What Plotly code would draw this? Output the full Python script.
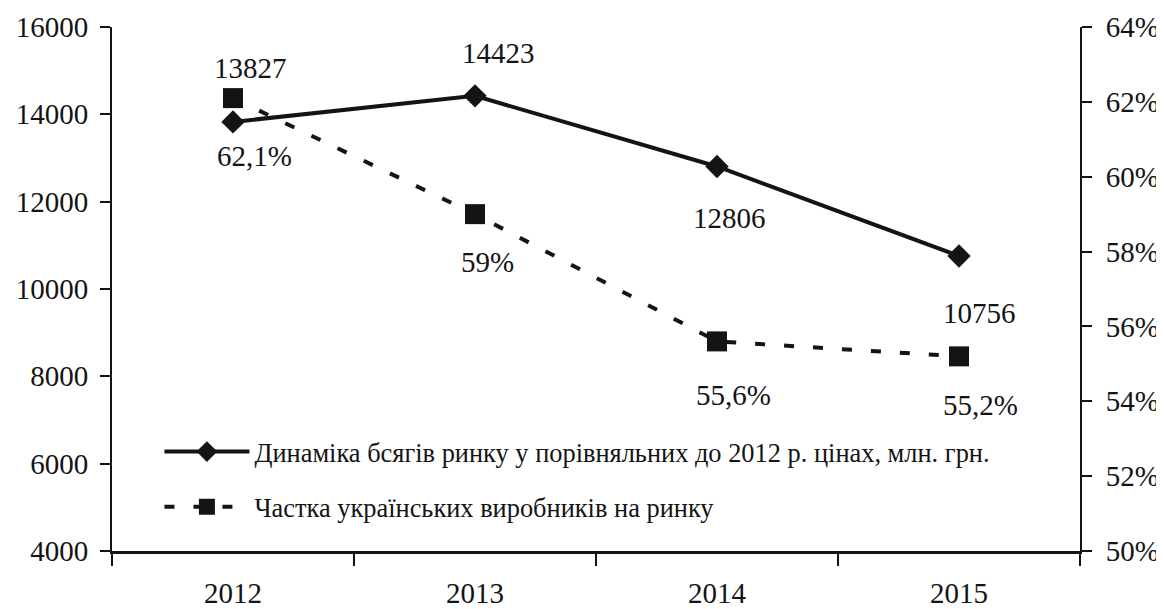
import plotly.graph_objects as go

years = ["2012", "2013", "2014", "2015"]
volume = [13827, 14423, 12806, 10756]
share = [62.1, 59.0, 55.6, 55.2]
volume_labels = ["13827", "14423", "12806", "10756"]
share_labels = ["62,1%", "59%", "55,6%", "55,2%"]
left_ticks = [4000, 6000, 8000, 10000, 12000, 14000, 16000]
left_tick_text = [str(v) for v in left_ticks]
right_ticks = [50, 52, 54, 56, 58, 60, 62, 64]
right_tick_text = [f"{v}%" for v in right_ticks]

name1 = "Динаміка бсягів ринку у порівняльних до 2012 р. цінах, млн. грн."
name2 = "Частка українських виробників на ринку"

FONT = "'Liberation Serif', 'Times New Roman', Times, serif"
INK = "#141414"

fig = go.Figure()
fig.add_trace(go.Scatter(
    x=years, y=volume, name=name1, mode="lines+markers",
    line=dict(color=INK, width=4),
    marker=dict(symbol="diamond", size=18, color=INK),
    yaxis="y", legend="legend",
))
fig.add_trace(go.Scatter(
    x=years, y=share, name=name2, mode="lines+markers",
    line=dict(color=INK, width=4, dash="10px,19px"),
    marker=dict(symbol="square", size=20, color=INK),
    yaxis="y2", legend="legend2",
))

# value label offsets in pixels (dx right, dy down)
vol_off = [(17, -54), (23, -43), (12, 52), (20, 57)]
share_off = [(21, 58), (12, 48), (16, 54), (21, 49)]
for i in range(len(years)):
    dx, dy = vol_off[i]
    fig.add_annotation(x=i, y=volume[i], xref="x", yref="y", text=volume_labels[i],
                       showarrow=False, xshift=dx, yshift=-dy,
                       font=dict(family=FONT, size=29, color=INK))
    dx, dy = share_off[i]
    fig.add_annotation(x=i, y=share[i], xref="x", yref="y2", text=share_labels[i],
                       showarrow=False, xshift=dx, yshift=-dy,
                       font=dict(family=FONT, size=29, color=INK))

legend_common = dict(x=0.049, xanchor="left", yanchor="middle",
                     bgcolor="rgba(0,0,0,0)",
                     font=dict(family=FONT, size=26.4, color=INK), itemwidth=85)

fig.update_layout(
    width=1164, height=609,
    margin=dict(l=104, r=92, t=19, b=66, autoexpand=False),
    paper_bgcolor="white", plot_bgcolor="white",
    font=dict(family=FONT, size=29, color=INK),
    showlegend=True,
    legend=dict(y=0.189, **legend_common),
    legend2=dict(y=0.084, **legend_common),
    xaxis=dict(type="category", range=[-0.5, 3.5], tickson="boundaries",
               ticks="outside", ticklen=12, tickwidth=2, tickcolor=INK,
               showline=True, linecolor=INK, linewidth=3, showgrid=False,
               zeroline=False, ticklabelstandoff=14, automargin=False,
               tickfont=dict(family=FONT, size=29, color=INK)),
    yaxis=dict(range=[4000, 16000], tickvals=left_ticks, ticktext=left_tick_text,
               ticks="outside", ticklen=10, tickwidth=2, tickcolor=INK,
               showline=True, linecolor=INK, linewidth=2, showgrid=False,
               zeroline=False, ticklabelstandoff=6, automargin=False,
               tickfont=dict(family=FONT, size=29, color=INK)),
    yaxis2=dict(range=[50, 64], tickvals=right_ticks, ticktext=right_tick_text,
                overlaying="y", side="right", ticks="outside", ticklen=10,
                tickwidth=2, tickcolor=INK, showline=True,
                linecolor=INK, linewidth=2, showgrid=False, zeroline=False,
                ticklabelstandoff=8, automargin=False,
                tickfont=dict(family=FONT, size=29, color=INK)),
)

fig.write_html("out.html")
